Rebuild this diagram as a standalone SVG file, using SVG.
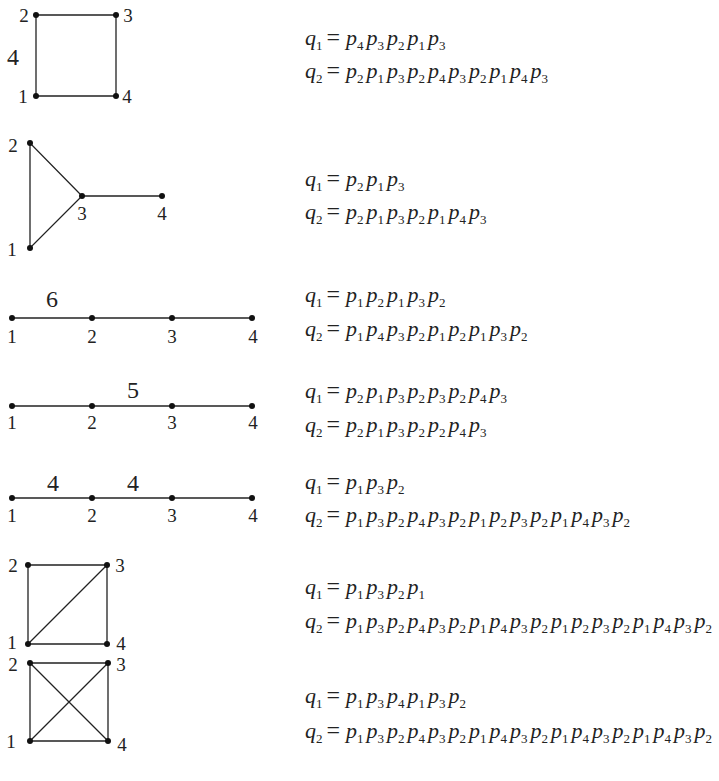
<svg xmlns="http://www.w3.org/2000/svg" width="719" height="781" viewBox="0 0 719 781">
<style>
.bg{fill:#fff}
.ed{stroke:#222;stroke-width:1.3;fill:none}
.nd{fill:#111}
text{fill:#222}
.lb{font-size:19px}
.wl{font-size:24px}
.f{font-size:22px;font-style:italic}
.s{font-size:13px;font-style:normal}
.e{font-style:normal;font-size:24px}
</style>
<rect class="bg" width="719" height="781"/>
<g id="connectors">
<path class="ed" d="M36,15H116V96H36Z"/>
<path class="ed" d="M30,143V248L82,196ZM82,196H162"/>
<path class="ed" d="M12,318H252"/>
<path class="ed" d="M12,406H252"/>
<path class="ed" d="M12,498H252"/>
<path class="ed" d="M28,565H107V644H28ZM28,644L107,565"/>
<path class="ed" d="M30,663H108V741H30ZM30,741L108,663M30,663L108,741"/>
</g>
<g font-family="Liberation Serif, serif">
<g id="graph1">
<circle class="nd" cx="36" cy="15" r="3"/><circle class="nd" cx="116" cy="15" r="3"/><circle class="nd" cx="36" cy="96" r="3"/><circle class="nd" cx="116" cy="96" r="3"/>
<text class="lb" x="24" y="22" text-anchor="middle">2</text><text class="lb" x="128" y="22" text-anchor="middle">3</text><text class="lb" x="23" y="103" text-anchor="middle">1</text><text class="lb" x="127" y="103" text-anchor="middle">4</text>
<text class="wl" x="13" y="65" text-anchor="middle">4</text>
</g>
<g id="graph2">
<circle class="nd" cx="30" cy="143" r="3"/><circle class="nd" cx="82" cy="196" r="3"/><circle class="nd" cx="162" cy="196" r="3"/><circle class="nd" cx="30" cy="248" r="3"/>
<text class="lb" x="13" y="152" text-anchor="middle">2</text><text class="lb" x="82" y="220" text-anchor="middle">3</text><text class="lb" x="162" y="220" text-anchor="middle">4</text><text class="lb" x="12" y="256" text-anchor="middle">1</text>
</g>
<g id="graph3">
<circle class="nd" cx="12" cy="318" r="3"/><circle class="nd" cx="92" cy="318" r="3"/><circle class="nd" cx="172" cy="318" r="3"/><circle class="nd" cx="252" cy="318" r="3"/>
<text class="lb" x="12" y="343" text-anchor="middle">1</text><text class="lb" x="92" y="343" text-anchor="middle">2</text><text class="lb" x="172" y="343" text-anchor="middle">3</text><text class="lb" x="253" y="343" text-anchor="middle">4</text>
<text class="wl" x="52" y="307" text-anchor="middle">6</text>
</g>
<g id="graph4">
<circle class="nd" cx="12" cy="406" r="3"/><circle class="nd" cx="92" cy="406" r="3"/><circle class="nd" cx="172" cy="406" r="3"/><circle class="nd" cx="252" cy="406" r="3"/>
<text class="lb" x="12" y="429" text-anchor="middle">1</text><text class="lb" x="92" y="429" text-anchor="middle">2</text><text class="lb" x="172" y="429" text-anchor="middle">3</text><text class="lb" x="253" y="429" text-anchor="middle">4</text>
<text class="wl" x="133" y="398" text-anchor="middle">5</text>
</g>
<g id="graph5">
<circle class="nd" cx="12" cy="498" r="3"/><circle class="nd" cx="92" cy="498" r="3"/><circle class="nd" cx="172" cy="498" r="3"/><circle class="nd" cx="252" cy="498" r="3"/>
<text class="lb" x="12" y="522" text-anchor="middle">1</text><text class="lb" x="92" y="522" text-anchor="middle">2</text><text class="lb" x="172" y="522" text-anchor="middle">3</text><text class="lb" x="253" y="522" text-anchor="middle">4</text>
<text class="wl" x="53" y="491" text-anchor="middle">4</text><text class="wl" x="133" y="491" text-anchor="middle">4</text>
</g>
<g id="graph6">
<circle class="nd" cx="28" cy="565" r="3"/><circle class="nd" cx="107" cy="565" r="3"/><circle class="nd" cx="28" cy="644" r="3"/><circle class="nd" cx="107" cy="644" r="3"/>
<text class="lb" x="13" y="572" text-anchor="middle">2</text><text class="lb" x="120" y="572" text-anchor="middle">3</text><text class="lb" x="12" y="649" text-anchor="middle">1</text><text class="lb" x="121" y="650" text-anchor="middle">4</text>
</g>
<g id="graph7">
<circle class="nd" cx="30" cy="663" r="3"/><circle class="nd" cx="108" cy="663" r="3"/><circle class="nd" cx="30" cy="741" r="3"/><circle class="nd" cx="108" cy="741" r="3"/>
<text class="lb" x="13" y="671" text-anchor="middle">2</text><text class="lb" x="121" y="671" text-anchor="middle">3</text><text class="lb" x="11" y="748" text-anchor="middle">1</text><text class="lb" x="122" y="751" text-anchor="middle">4</text>
</g>
<g id="formulas">
<text class="f" x="305" y="45">q<tspan class="s" dy="5">1</tspan><tspan class="e" dx="4" dy="-5">=</tspan><tspan dx="6">p</tspan><tspan class="s" dy="5">4</tspan><tspan dx="3" dy="-5">p</tspan><tspan class="s" dy="5">3</tspan><tspan dx="3" dy="-5">p</tspan><tspan class="s" dy="5">2</tspan><tspan dx="3" dy="-5">p</tspan><tspan class="s" dy="5">1</tspan><tspan dx="3" dy="-5">p</tspan><tspan class="s" dy="5">3</tspan></text>
<text class="f" x="305" y="78">q<tspan class="s" dy="5">2</tspan><tspan class="e" dx="4" dy="-5">=</tspan><tspan dx="6">p</tspan><tspan class="s" dy="5">2</tspan><tspan dx="3" dy="-5">p</tspan><tspan class="s" dy="5">1</tspan><tspan dx="3" dy="-5">p</tspan><tspan class="s" dy="5">3</tspan><tspan dx="3" dy="-5">p</tspan><tspan class="s" dy="5">2</tspan><tspan dx="3" dy="-5">p</tspan><tspan class="s" dy="5">4</tspan><tspan dx="3" dy="-5">p</tspan><tspan class="s" dy="5">3</tspan><tspan dx="3" dy="-5">p</tspan><tspan class="s" dy="5">2</tspan><tspan dx="3" dy="-5">p</tspan><tspan class="s" dy="5">1</tspan><tspan dx="3" dy="-5">p</tspan><tspan class="s" dy="5">4</tspan><tspan dx="3" dy="-5">p</tspan><tspan class="s" dy="5">3</tspan></text>

<text class="f" x="305" y="186">q<tspan class="s" dy="5">1</tspan><tspan class="e" dx="4" dy="-5">=</tspan><tspan dx="6">p</tspan><tspan class="s" dy="5">2</tspan><tspan dx="3" dy="-5">p</tspan><tspan class="s" dy="5">1</tspan><tspan dx="3" dy="-5">p</tspan><tspan class="s" dy="5">3</tspan></text>
<text class="f" x="305" y="219">q<tspan class="s" dy="5">2</tspan><tspan class="e" dx="4" dy="-5">=</tspan><tspan dx="6">p</tspan><tspan class="s" dy="5">2</tspan><tspan dx="3" dy="-5">p</tspan><tspan class="s" dy="5">1</tspan><tspan dx="3" dy="-5">p</tspan><tspan class="s" dy="5">3</tspan><tspan dx="3" dy="-5">p</tspan><tspan class="s" dy="5">2</tspan><tspan dx="3" dy="-5">p</tspan><tspan class="s" dy="5">1</tspan><tspan dx="3" dy="-5">p</tspan><tspan class="s" dy="5">4</tspan><tspan dx="3" dy="-5">p</tspan><tspan class="s" dy="5">3</tspan></text>

<text class="f" x="305" y="302">q<tspan class="s" dy="5">1</tspan><tspan class="e" dx="4" dy="-5">=</tspan><tspan dx="6">p</tspan><tspan class="s" dy="5">1</tspan><tspan dx="3" dy="-5">p</tspan><tspan class="s" dy="5">2</tspan><tspan dx="3" dy="-5">p</tspan><tspan class="s" dy="5">1</tspan><tspan dx="3" dy="-5">p</tspan><tspan class="s" dy="5">3</tspan><tspan dx="3" dy="-5">p</tspan><tspan class="s" dy="5">2</tspan></text>
<text class="f" x="305" y="336">q<tspan class="s" dy="5">2</tspan><tspan class="e" dx="4" dy="-5">=</tspan><tspan dx="6">p</tspan><tspan class="s" dy="5">1</tspan><tspan dx="3" dy="-5">p</tspan><tspan class="s" dy="5">4</tspan><tspan dx="3" dy="-5">p</tspan><tspan class="s" dy="5">3</tspan><tspan dx="3" dy="-5">p</tspan><tspan class="s" dy="5">2</tspan><tspan dx="3" dy="-5">p</tspan><tspan class="s" dy="5">1</tspan><tspan dx="3" dy="-5">p</tspan><tspan class="s" dy="5">2</tspan><tspan dx="3" dy="-5">p</tspan><tspan class="s" dy="5">1</tspan><tspan dx="3" dy="-5">p</tspan><tspan class="s" dy="5">3</tspan><tspan dx="3" dy="-5">p</tspan><tspan class="s" dy="5">2</tspan></text>

<text class="f" x="305" y="398">q<tspan class="s" dy="5">1</tspan><tspan class="e" dx="4" dy="-5">=</tspan><tspan dx="6">p</tspan><tspan class="s" dy="5">2</tspan><tspan dx="3" dy="-5">p</tspan><tspan class="s" dy="5">1</tspan><tspan dx="3" dy="-5">p</tspan><tspan class="s" dy="5">3</tspan><tspan dx="3" dy="-5">p</tspan><tspan class="s" dy="5">2</tspan><tspan dx="3" dy="-5">p</tspan><tspan class="s" dy="5">3</tspan><tspan dx="3" dy="-5">p</tspan><tspan class="s" dy="5">2</tspan><tspan dx="3" dy="-5">p</tspan><tspan class="s" dy="5">4</tspan><tspan dx="3" dy="-5">p</tspan><tspan class="s" dy="5">3</tspan></text>
<text class="f" x="305" y="432">q<tspan class="s" dy="5">2</tspan><tspan class="e" dx="4" dy="-5">=</tspan><tspan dx="6">p</tspan><tspan class="s" dy="5">2</tspan><tspan dx="3" dy="-5">p</tspan><tspan class="s" dy="5">1</tspan><tspan dx="3" dy="-5">p</tspan><tspan class="s" dy="5">3</tspan><tspan dx="3" dy="-5">p</tspan><tspan class="s" dy="5">2</tspan><tspan dx="3" dy="-5">p</tspan><tspan class="s" dy="5">2</tspan><tspan dx="3" dy="-5">p</tspan><tspan class="s" dy="5">4</tspan><tspan dx="3" dy="-5">p</tspan><tspan class="s" dy="5">3</tspan></text>

<text class="f" x="305" y="489">q<tspan class="s" dy="5">1</tspan><tspan class="e" dx="4" dy="-5">=</tspan><tspan dx="6">p</tspan><tspan class="s" dy="5">1</tspan><tspan dx="3" dy="-5">p</tspan><tspan class="s" dy="5">3</tspan><tspan dx="3" dy="-5">p</tspan><tspan class="s" dy="5">2</tspan></text>
<text class="f" x="305" y="522">q<tspan class="s" dy="5">2</tspan><tspan class="e" dx="4" dy="-5">=</tspan><tspan dx="6">p</tspan><tspan class="s" dy="5">1</tspan><tspan dx="3" dy="-5">p</tspan><tspan class="s" dy="5">3</tspan><tspan dx="3" dy="-5">p</tspan><tspan class="s" dy="5">2</tspan><tspan dx="3" dy="-5">p</tspan><tspan class="s" dy="5">4</tspan><tspan dx="3" dy="-5">p</tspan><tspan class="s" dy="5">3</tspan><tspan dx="3" dy="-5">p</tspan><tspan class="s" dy="5">2</tspan><tspan dx="3" dy="-5">p</tspan><tspan class="s" dy="5">1</tspan><tspan dx="3" dy="-5">p</tspan><tspan class="s" dy="5">2</tspan><tspan dx="3" dy="-5">p</tspan><tspan class="s" dy="5">3</tspan><tspan dx="3" dy="-5">p</tspan><tspan class="s" dy="5">2</tspan><tspan dx="3" dy="-5">p</tspan><tspan class="s" dy="5">1</tspan><tspan dx="3" dy="-5">p</tspan><tspan class="s" dy="5">4</tspan><tspan dx="3" dy="-5">p</tspan><tspan class="s" dy="5">3</tspan><tspan dx="3" dy="-5">p</tspan><tspan class="s" dy="5">2</tspan></text>

<text class="f" x="305" y="594">q<tspan class="s" dy="5">1</tspan><tspan class="e" dx="4" dy="-5">=</tspan><tspan dx="6">p</tspan><tspan class="s" dy="5">1</tspan><tspan dx="3" dy="-5">p</tspan><tspan class="s" dy="5">3</tspan><tspan dx="3" dy="-5">p</tspan><tspan class="s" dy="5">2</tspan><tspan dx="3" dy="-5">p</tspan><tspan class="s" dy="5">1</tspan></text>
<text class="f" x="305" y="628">q<tspan class="s" dy="5">2</tspan><tspan class="e" dx="4" dy="-5">=</tspan><tspan dx="6">p</tspan><tspan class="s" dy="5">1</tspan><tspan dx="3" dy="-5">p</tspan><tspan class="s" dy="5">3</tspan><tspan dx="3" dy="-5">p</tspan><tspan class="s" dy="5">2</tspan><tspan dx="3" dy="-5">p</tspan><tspan class="s" dy="5">4</tspan><tspan dx="3" dy="-5">p</tspan><tspan class="s" dy="5">3</tspan><tspan dx="3" dy="-5">p</tspan><tspan class="s" dy="5">2</tspan><tspan dx="3" dy="-5">p</tspan><tspan class="s" dy="5">1</tspan><tspan dx="3" dy="-5">p</tspan><tspan class="s" dy="5">4</tspan><tspan dx="3" dy="-5">p</tspan><tspan class="s" dy="5">3</tspan><tspan dx="3" dy="-5">p</tspan><tspan class="s" dy="5">2</tspan><tspan dx="3" dy="-5">p</tspan><tspan class="s" dy="5">1</tspan><tspan dx="3" dy="-5">p</tspan><tspan class="s" dy="5">2</tspan><tspan dx="3" dy="-5">p</tspan><tspan class="s" dy="5">3</tspan><tspan dx="3" dy="-5">p</tspan><tspan class="s" dy="5">2</tspan><tspan dx="3" dy="-5">p</tspan><tspan class="s" dy="5">1</tspan><tspan dx="3" dy="-5">p</tspan><tspan class="s" dy="5">4</tspan><tspan dx="3" dy="-5">p</tspan><tspan class="s" dy="5">3</tspan><tspan dx="3" dy="-5">p</tspan><tspan class="s" dy="5">2</tspan></text>

<text class="f" x="305" y="703">q<tspan class="s" dy="5">1</tspan><tspan class="e" dx="4" dy="-5">=</tspan><tspan dx="6">p</tspan><tspan class="s" dy="5">1</tspan><tspan dx="3" dy="-5">p</tspan><tspan class="s" dy="5">3</tspan><tspan dx="3" dy="-5">p</tspan><tspan class="s" dy="5">4</tspan><tspan dx="3" dy="-5">p</tspan><tspan class="s" dy="5">1</tspan><tspan dx="3" dy="-5">p</tspan><tspan class="s" dy="5">3</tspan><tspan dx="3" dy="-5">p</tspan><tspan class="s" dy="5">2</tspan></text>
<text class="f" x="305" y="738">q<tspan class="s" dy="5">2</tspan><tspan class="e" dx="4" dy="-5">=</tspan><tspan dx="6">p</tspan><tspan class="s" dy="5">1</tspan><tspan dx="3" dy="-5">p</tspan><tspan class="s" dy="5">3</tspan><tspan dx="3" dy="-5">p</tspan><tspan class="s" dy="5">2</tspan><tspan dx="3" dy="-5">p</tspan><tspan class="s" dy="5">4</tspan><tspan dx="3" dy="-5">p</tspan><tspan class="s" dy="5">3</tspan><tspan dx="3" dy="-5">p</tspan><tspan class="s" dy="5">2</tspan><tspan dx="3" dy="-5">p</tspan><tspan class="s" dy="5">1</tspan><tspan dx="3" dy="-5">p</tspan><tspan class="s" dy="5">4</tspan><tspan dx="3" dy="-5">p</tspan><tspan class="s" dy="5">3</tspan><tspan dx="3" dy="-5">p</tspan><tspan class="s" dy="5">2</tspan><tspan dx="3" dy="-5">p</tspan><tspan class="s" dy="5">1</tspan><tspan dx="3" dy="-5">p</tspan><tspan class="s" dy="5">4</tspan><tspan dx="3" dy="-5">p</tspan><tspan class="s" dy="5">3</tspan><tspan dx="3" dy="-5">p</tspan><tspan class="s" dy="5">2</tspan><tspan dx="3" dy="-5">p</tspan><tspan class="s" dy="5">1</tspan><tspan dx="3" dy="-5">p</tspan><tspan class="s" dy="5">4</tspan><tspan dx="3" dy="-5">p</tspan><tspan class="s" dy="5">3</tspan><tspan dx="3" dy="-5">p</tspan><tspan class="s" dy="5">2</tspan></text>
</g>
</g>
</svg>
